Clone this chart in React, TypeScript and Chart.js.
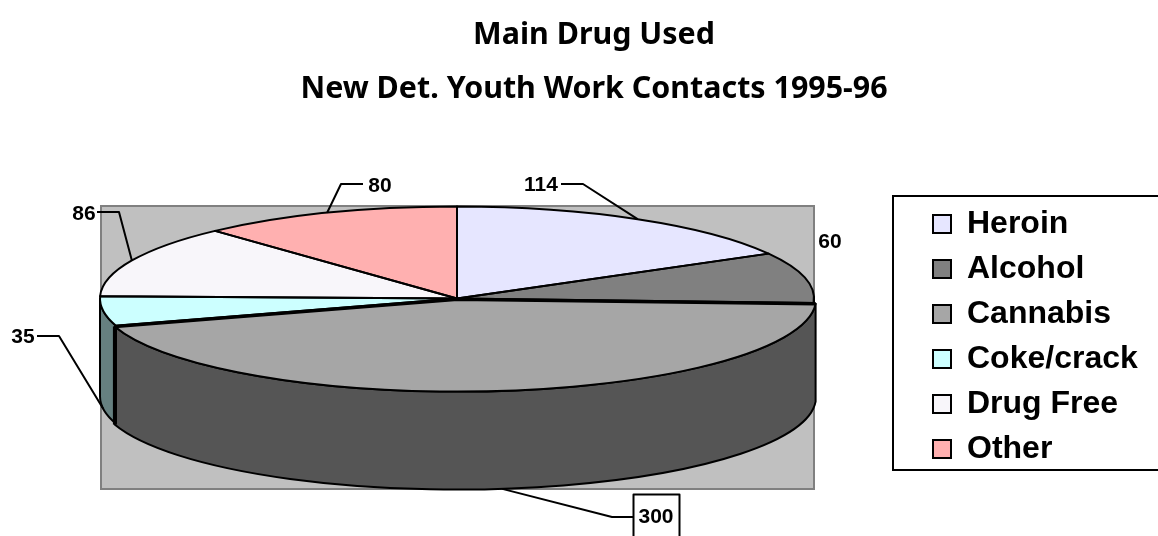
import React, { useEffect, useRef } from "react";
import { Chart, registerables } from "chart.js";

Chart.register(...registerables);

const categories = ["Heroin", "Alcohol", "Cannabis", "Coke/crack", "Drug Free", "Other"];
const contacts = [114, 60, 300, 35, 86, 80];
const topColors = ["#e6e6ff", "#808080", "#a6a6a6", "#ccffff", "#f8f6fa", "#ffb0b0"];
const wallColors = ["#737380", "#404040", "#555555", "#668080", "#7c7b7d", "#805858"];
const explode = [0, 0, 6, 0, 0, 0];
const titleLines = ["Main Drug Used", "New Det. Youth Work Contacts 1995-96"];

// Pie projection on the page: centre, ellipse radii and the height of the side wall.
const CX = 457;
const CY = 298.5;
const RX = 357;
const RY = 92;
const DEPTH = 98;
const PLOT = { left: 101, top: 206, right: 814, bottom: 489 };
const LEGEND_BOX = { left: 893, top: 196, right: 1158, bottom: 470 };
const LEGEND_ORIGIN = { left: 920, top: 195 };
const TITLE_CENTRE = 594;

// Label placement for each slice: text centre, elbow of the leader, and whether
// the leader lands on the wall rather than the rim.
const callouts = [
  { tx: 541, ty: 185, from: [561, 184], elbow: [583, 184], wall: false },
  { tx: 830, ty: 242, from: null, elbow: null, wall: false },
  { tx: 656, ty: 517, from: [633, 517], elbow: [612, 517], wall: true, boxed: true },
  { tx: 23, ty: 337, from: [37, 336], elbow: [59, 336], wall: true },
  { tx: 84, ty: 214, from: [97, 212], elbow: [119, 212], wall: false },
  { tx: 380, ty: 186, from: [363, 184], elbow: [341, 184], wall: false },
];

const LABEL_FONT = "bold 21px 'Liberation Sans', Arial, sans-serif";
const RIM_WIDTH = 2;

// Maps each arc element onto the projected ellipse, following the way the arc
// element itself applies its offset when it is filled.
function geometry(chart: any) {
  const arcs = chart.getDatasetMeta(0).data;
  const R = arcs[0].outerRadius;
  const sx = RX / R;
  const sy = RY / R;
  return arcs.map((arc: any, i: number) => {
    const mid = (arc.startAngle + arc.endAngle) / 2;
    const shift = (arc.options.offset || 0) / 4;
    const growth = shift * (1 - Math.sin(Math.min(Math.PI, arc.circumference)));
    return {
      cx: CX + Math.cos(mid) * shift * sx,
      cy: CY + Math.sin(mid) * shift * sy,
      rx: RX + growth * sx,
      ry: RY + growth * sy,
      start: arc.startAngle,
      end: arc.endAngle,
      mid,
      index: i,
      sx,
      sy,
      baseX: arc.x,
      baseY: arc.y,
    };
  });
}

// Draws the plot backdrop and the extruded wall of every slice facing the viewer,
// then squashes the circular pie into an ellipse while the arcs are filled.
const projectionPlugin = {
  id: "projection",
  afterLayout(chart: any) {
    const title = chart.titleBlock;
    title.left = 0;
    title.right = TITLE_CENTRE * 2;
    const legend = chart.legend;
    const { width, height } = legend;
    legend.left = LEGEND_ORIGIN.left;
    legend.right = LEGEND_ORIGIN.left + width;
    legend.top = LEGEND_ORIGIN.top;
    legend.bottom = LEGEND_ORIGIN.top + height;
  },
  beforeDatasetsDraw(chart: any) {
    const ctx = chart.ctx;
    const slices = geometry(chart);
    ctx.save();
    ctx.fillStyle = "#c0c0c0";
    ctx.strokeStyle = "#808080";
    ctx.lineWidth = 2;
    ctx.fillRect(PLOT.left, PLOT.top, PLOT.right - PLOT.left, PLOT.bottom - PLOT.top);
    ctx.strokeRect(PLOT.left, PLOT.top, PLOT.right - PLOT.left, PLOT.bottom - PLOT.top);

    ctx.lineJoin = "round";
    for (const s of slices) {
      const a0 = Math.max(s.start, 0);
      const a1 = Math.min(s.end, Math.PI);
      if (a1 <= a0) continue;
      ctx.beginPath();
      ctx.ellipse(s.cx, s.cy, s.rx, s.ry, 0, a0, a1);
      ctx.ellipse(s.cx, s.cy + DEPTH, s.rx, s.ry, 0, a1, a0, true);
      ctx.closePath();
      ctx.fillStyle = wallColors[s.index];
      ctx.fill();
      ctx.strokeStyle = "#000000";
      ctx.lineWidth = RIM_WIDTH;
      ctx.stroke();
    }
    ctx.restore();

    const first = slices[0];
    ctx.save();
    ctx.translate(CX, CY);
    ctx.scale(first.sx, first.sy);
    ctx.translate(-first.baseX, -first.baseY);
  },
  afterDatasetsDraw(chart: any) {
    const ctx = chart.ctx;
    ctx.restore();
    const slices = geometry(chart);
    ctx.save();
    ctx.strokeStyle = "#000000";
    ctx.lineJoin = "round";
    for (const s of slices) {
      ctx.beginPath();
      ctx.moveTo(s.cx, s.cy);
      ctx.ellipse(s.cx, s.cy, s.rx, s.ry, 0, s.start, s.end);
      ctx.closePath();
      ctx.lineWidth = RIM_WIDTH;
      ctx.stroke();
    }
    // The exploded slice sits in a heavier outline along both of its cut edges.
    slices
      .filter((s: any) => explode[s.index] > 0)
      .forEach((s: any) => {
        ctx.beginPath();
        ctx.moveTo(s.cx + Math.cos(s.start) * s.rx, s.cy + Math.sin(s.start) * s.ry);
        ctx.lineTo(s.cx, s.cy);
        ctx.lineTo(s.cx + Math.cos(s.end) * s.rx, s.cy + Math.sin(s.end) * s.ry);
        ctx.lineWidth = 3.5;
        ctx.stroke();
        ctx.beginPath();
        const x = s.cx + Math.cos(s.end) * s.rx;
        const y = s.cy + Math.sin(s.end) * s.ry;
        ctx.moveTo(x, y);
        ctx.lineTo(x, y + DEPTH);
        ctx.stroke();
      });

    // Value labels with their leader lines.
    ctx.font = LABEL_FONT;
    ctx.textAlign = "center";
    ctx.textBaseline = "middle";
    ctx.fillStyle = "#000000";
    slices.forEach((s: any) => {
      const c: any = callouts[s.index];
      if (c.from) {
        const ax = s.cx + Math.cos(s.mid) * s.rx;
        const ay = s.cy + Math.sin(s.mid) * s.ry + (c.wall ? DEPTH : 0);
        ctx.beginPath();
        ctx.moveTo(c.from[0], c.from[1]);
        ctx.lineTo(c.elbow[0], c.elbow[1]);
        ctx.lineTo(ax, ay);
        ctx.lineWidth = RIM_WIDTH;
        ctx.stroke();
      }
      if (c.boxed) {
        ctx.lineWidth = RIM_WIDTH;
        ctx.strokeRect(633.5, 494.5, 46, 43);
      }
      ctx.fillText(String(contacts[s.index]), c.tx, c.ty);
    });
    ctx.restore();
  },
  afterDraw(chart: any) {
    const ctx = chart.ctx;
    ctx.save();
    ctx.strokeStyle = "#000000";
    ctx.lineWidth = RIM_WIDTH;
    ctx.strokeRect(
      LEGEND_BOX.left,
      LEGEND_BOX.top,
      LEGEND_BOX.right - LEGEND_BOX.left + 4,
      LEGEND_BOX.bottom - LEGEND_BOX.top,
    );
    ctx.restore();
  },
};

export default function App() {
  const ref = useRef<HTMLCanvasElement | null>(null);

  useEffect(() => {
    const chart = new Chart(ref.current as HTMLCanvasElement, {
      type: "pie",
      data: {
        labels: categories,
        datasets: [
          {
            data: contacts,
            backgroundColor: topColors,
            borderWidth: 0,
            offset: explode,
            hoverOffset: 0,
            clip: false,
          } as any,
        ],
      },
      options: {
        responsive: false,
        animation: false,
        events: [],
        plugins: {
          tooltip: { enabled: false },
          title: {
            display: true,
            text: titleLines,
            color: "#000000",
            font: { family: "'Noto Sans', sans-serif", size: 30.4, weight: "bold", lineHeight: 1.776 },
            padding: { top: 8, bottom: 0 },
          },
          legend: {
            position: "right",
            align: "start",
            labels: {
              color: "#000000",
              font: { family: "'Liberation Sans', Arial, sans-serif", size: 32, weight: "bold" },
              boxWidth: 18,
              boxHeight: 18,
              padding: 13,
              generateLabels: () =>
                categories.map((text, i) => ({
                  text,
                  fillStyle: topColors[i],
                  strokeStyle: "#000000",
                  lineWidth: RIM_WIDTH,
                  index: i,
                  hidden: false,
                })),
            },
          },
        },
      },
      plugins: [projectionPlugin],
    } as any);
    return () => chart.destroy();
  }, []);

  return (
    <canvas
      ref={ref}
      width={1158}
      height={536}
      style={{ position: "absolute", left: 0, top: 0, display: "block" }}
    />
  );
}
